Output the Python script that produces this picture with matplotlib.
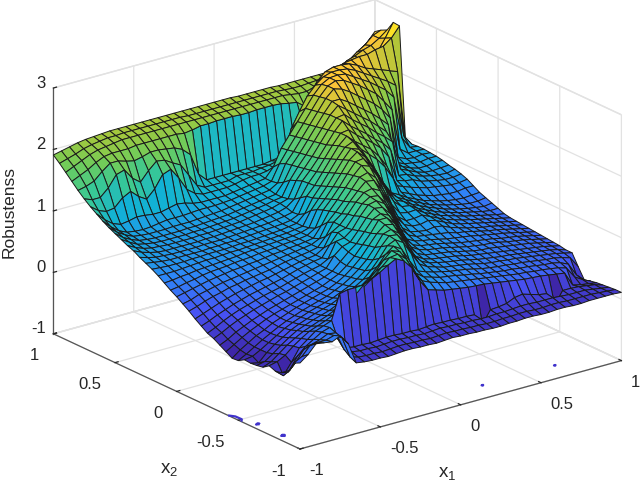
import numpy as np
import matplotlib
matplotlib.use("Agg")
import matplotlib.pyplot as plt
from matplotlib.colors import LinearSegmentedColormap, Normalize
from mpl_toolkits.mplot3d import proj3d

plt.rcParams['font.family'] = ['Liberation Sans', 'DejaVu Sans']
plt.rcParams['mathtext.fontset'] = 'custom'
plt.rcParams['mathtext.rm'] = 'Liberation Sans'
plt.rcParams['mathtext.default'] = 'rm'

x1 = np.linspace(-1, 1, 41)
x2 = np.linspace(-1, 1, 41)
x_ticks = [-1, -0.5, 0, 0.5, 1]
z_ticks = [-1, 0, 1, 2, 3]

# robustness, one row per x2 value (x2=-1 first)
robustness = [
[.40,.50,.64,.62,.60,.66,.50,.15,.13,.12,.12,.11,.12,.13,.13,.12,.12,.11,.12,.13,.12,.12,.11,.11,.10,.10,.11,.11,.12,.12,.11,.11,.12,.12,.11,.11,.12,.12,.12,.12,.11],
[.35,.42,.56,.58,.58,.62,.55,.20,.16,.15,.15,.14,.15,.16,.16,.15,.15,.14,.15,.16,.15,.15,.14,.14,.13,.13,.14,.14,.15,.15,.14,.14,.15,.15,.14,.14,.14,.14,.13,.12,.11],
[.15,.28,.45,.50,.54,.60,.58,.28,.20,.18,.18,.17,.18,.19,.19,.18,.18,.17,.18,.19,.18,.18,.17,.17,.16,.16,.17,.17,.18,.19,.19,.18,.18,.18,.17,.16,.16,.16,.14,.12,.10],
[.10,.10,.30,.42,.50,.58,.62,.40,.22,.20,.20,.19,.20,.21,.21,.20,.20,.19,.20,.21,.20,.20,.19,.19,.18,-.02,.19,.20,.22,.28,.30,.26,.22,.20,-.02,.18,.18,.17,.15,.13,.09],
[.08,-.03,.15,.35,.45,.55,.60,.65,1.05,1.08,1.08,1.09,1.15,1.22,1.30,1.37,1.30,1.15,.90,.72,.68,.64,.62,.60,.58,.57,.56,.54,.52,.50,.48,.46,.45,.44,.42,.40,.38,.15,.12,.10,.08],
[.12,.15,.22,.33,.42,.50,.55,.60,.66,.75,.85,.92,1.0,1.1,1.22,1.34,1.36,1.25,1.0,.82,.76,.72,.68,.66,.64,.62,.6,.58,.56,.54,.52,.5,.49,.47,.46,.44,.42,.38,.2,.12,.06],
[.05,.10,.2,.3,.38,.45,.5,.55,.6,.66,.72,.8,.88,.98,1.1,1.25,1.37,1.32,1.12,.9,.8,.76,.72,.7,.68,.65,.63,.6,.58,.56,.54,.53,.51,.5,.48,.46,.45,.42,.36,.15,.03],
[.03,.06,.15,.25,.34,.42,.47,.52,.56,.6,.66,.72,.78,.86,.96,1.1,1.26,1.36,1.28,1.05,.85,.8,.76,.73,.7,.68,.66,.63,.6,.58,.56,.55,.53,.52,.5,.48,.46,.45,.42,.38,.2],
[.02,-.01,.12,.22,.3,.38,.44,.49,.54,.58,.62,.68,.74,.8,.88,1.0,1.15,1.32,1.38,1.3,1.08,.88,.8,.76,.72,.7,.68,.66,.63,.6,.58,.57,.55,.54,.52,.5,.48,.46,.44,.41,.38],
[.03,.05,.12,.2,.28,.36,.42,.47,.52,.56,.6,.64,.7,.76,.84,.94,1.08,1.26,1.4,1.38,1.22,.98,.84,.78,.75,.72,.7,.68,.65,.62,.6,.58,.56,.55,.53,.51,.49,.47,.45,.42,.38],
[-.03,.04,.12,.2,.27,.34,.4,.45,.5,.54,.58,.62,.68,.74,.82,.92,1.04,1.2,1.38,1.42,1.32,1.08,.88,.8,.76,.74,.72,.7,.67,.64,.62,.6,.58,.56,.54,.52,.5,.48,.46,.43,.40],
[-.04,.06,.14,.22,.28,.35,.4,.45,.5,.54,.58,.62,.66,.72,.8,.9,1.02,1.18,1.34,1.45,1.42,1.22,.98,.84,.78,.76,.74,.72,.69,.66,.63,.61,.6,.58,.56,.54,.52,.5,.47,.44,.41],
[.02,.1,.18,.25,.31,.37,.42,.46,.5,.54,.58,.62,.66,.72,.78,.88,1.0,1.15,1.3,1.48,1.48,1.35,1.1,.9,.82,.78,.76,.74,.71,.68,.65,.63,.61,.6,.58,.55,.53,.51,.48,.45,.42],
[.08,.14,.22,.28,.34,.39,.44,.48,.52,.56,.6,.64,.68,.72,.78,.9,1.02,1.12,1.28,1.44,1.5,1.44,1.25,1.0,.85,.8,.78,.76,.73,.7,.67,.65,.63,.61,.59,.56,.54,.52,.49,.46,.43],
[.14,.2,.27,.33,.38,.43,.47,.51,.55,.58,.62,.66,.7,.74,.78,.95,1.06,1.1,1.25,1.42,1.54,1.52,1.38,1.14,.9,.83,.8,.78,.75,.72,.7,.68,.66,.63,.61,.58,.56,.53,.5,.47,.44],
[.18,.24,.31,.37,.42,.46,.5,.54,.57,.6,.64,.68,.72,.75,.78,.85,1.1,1.12,1.22,1.4,1.55,1.58,1.5,1.28,1.02,.88,.82,.8,.78,.76,.74,.7,.68,.65,.62,.59,.57,.54,.51,.48,.45],
[.25,.3,.36,.41,.46,.5,.54,.57,.6,.63,.66,.7,.74,.77,.8,.82,1.0,1.16,1.2,1.36,1.52,1.6,1.58,1.42,1.18,.95,.85,.82,.8,.82,.8,.74,.7,.66,.63,.6,.58,.55,.52,.49,.46],
[.32,.37,.42,.47,.51,.55,.58,.61,.64,.66,.69,.72,.75,.78,.8,.82,.9,1.12,1.2,1.34,1.5,1.62,1.65,1.58,1.34,1.08,.92,.86,.85,.88,.84,.78,.72,.68,.65,.62,.59,.56,.53,.5,.47],
[.4,.44,.49,.53,.56,.6,.62,.65,.67,.69,.71,.74,.77,.79,.81,.83,.86,1.0,1.2,1.3,1.46,1.6,1.72,1.7,1.5,1.25,1.0,.9,.9,.92,.86,.8,.74,.7,.66,.63,.6,.57,.54,.51,.48],
[.47,.5,.55,.58,.61,.64,.66,.68,.7,.72,.74,.76,.78,.8,.82,.84,.86,.92,1.15,1.28,1.42,1.58,1.74,1.78,1.66,1.42,1.15,.98,.95,.96,.88,.82,.76,.72,.68,.64,.61,.58,.55,.52,.5],
[.54,.57,.6,.63,.66,.68,.7,.72,.73,.75,.76,.78,.8,.81,.83,.84,.86,.88,1.05,1.25,1.4,1.56,1.72,1.85,1.8,1.6,1.35,1.12,1.0,.98,.9,.84,.78,.73,.69,.65,.62,.59,.56,.54,.54],
[.6,.62,.65,.67,.7,.72,.73,.74,.76,.77,.78,.8,.81,.82,.84,.85,.86,.88,.96,1.22,1.36,1.52,1.7,1.86,1.88,1.72,1.48,1.25,1.06,1.0,.92,.86,.8,.75,.7,.66,.63,.6,.58,.56,.58],
[.67,.68,.7,.71,.73,.74,.75,.76,.77,.78,.8,.81,.82,.83,.84,.85,.86,.88,.92,1.18,1.32,1.48,1.66,1.84,1.94,1.82,1.6,1.38,1.14,1.02,.95,.88,.82,.76,.72,.68,.65,.62,.6,.6,.62],
[.74,.74,.74,.75,.76,.77,.78,.78,.79,.8,.8,.81,.82,.83,.84,.85,.86,.88,.9,1.12,1.28,1.44,1.62,1.8,1.95,1.9,1.72,1.5,1.25,1.05,.98,.9,.84,.78,.74,.7,.67,.65,.64,.65,.66],
[.8,.79,.78,.78,.78,.79,.79,.8,.8,.8,.81,.82,.82,.83,.84,.85,.86,.88,.9,1.02,1.24,1.4,1.58,1.76,1.92,1.98,1.82,1.7,1.58,1.42,1.2,.94,.88,.82,.78,.74,.72,.7,.7,.72,.72],
[.85,.83,.81,.8,.8,.8,.8,.8,.81,.81,.82,.82,.83,.84,.85,.86,.87,.88,.9,.96,1.22,1.36,1.54,1.72,1.9,2.02,1.9,1.8,1.7,1.55,1.35,1.0,.95,.9,.86,.82,.8,.78,.76,.76,.78],
[.9,.86,.83,.82,.81,.81,.81,.81,.82,.82,.82,.83,.84,.85,.86,.87,.88,.9,.92,.95,1.15,1.35,1.5,1.68,1.86,2.02,2.04,1.92,1.82,1.72,1.6,1.42,1.0,.96,.94,.88,.85,.82,.8,.8,.82],
[.96,.9,.86,.83,.82,.82,.82,.82,.82,.83,.83,.84,.85,.86,.87,.88,.9,.92,.94,.98,1.08,1.34,1.48,1.64,1.82,2.0,2.14,2.02,1.92,1.82,1.7,1.6,1.45,1.0,.98,.92,.88,.85,.83,.82,.85],
[1.0,.93,.88,.85,.84,.83,.83,.83,.83,.84,.84,.85,.86,.87,.88,.9,.92,.94,.96,1.0,1.04,1.3,1.46,1.62,1.8,1.98,2.14,2.16,2.04,1.94,1.84,1.72,1.62,1.5,1.02,.96,.9,.86,.85,.86,.87],
[1.05,.97,.9,.87,.85,.84,.84,.84,.84,.85,.85,.86,.87,.88,.89,.91,.93,.95,.97,1.0,1.02,1.26,1.44,1.6,1.78,1.96,2.14,2.26,2.16,2.06,1.96,1.86,1.74,1.62,1.05,.98,.92,.88,.88,.9,.9],
[1.1,1.0,.93,.88,.86,.85,.85,.85,.85,.86,.86,.87,.88,.89,.9,.92,.94,.96,.98,1.0,1.02,1.18,1.42,1.58,1.76,1.94,2.12,2.28,2.28,2.2,2.1,2.0,1.9,1.78,1.65,1.0,.94,.92,.9,.92,.92],
[1.15,1.04,.96,.9,.88,.87,.87,.87,.88,.88,.88,.89,.9,.91,.92,.94,.96,.98,1.0,1.02,1.04,1.12,1.4,1.56,1.74,1.92,2.1,2.28,2.4,2.36,2.28,2.18,2.08,1.98,1.85,1.68,1.0,.94,.92,.94,.93],
[1.21,1.08,.98,.92,.9,.89,.9,.92,.94,.94,.94,.95,.96,.96,.96,.97,.98,1.0,1.02,1.04,1.06,1.1,1.35,1.54,1.72,1.9,2.08,2.26,2.4,2.45,2.42,2.34,2.26,2.16,2.06,1.9,1.73,1.05,.95,.95,.94],
[1.28,1.15,1.05,1.0,1.02,1.05,1.04,1.02,1.02,1.05,1.08,1.06,1.02,1.0,1.0,1.0,1.0,1.02,1.04,1.06,1.08,1.1,1.25,1.52,1.7,1.88,2.06,2.24,2.38,2.45,2.46,2.44,2.36,2.28,2.2,2.1,2.0,1.85,1.15,.96,.94],
[1.35,1.25,1.2,1.22,1.35,1.42,1.3,1.22,1.35,1.55,1.6,1.42,1.2,1.1,1.05,1.05,1.05,1.05,1.07,1.1,1.12,1.12,1.14,1.15,1.25,1.72,1.96,2.18,2.32,2.42,2.46,2.46,2.44,2.38,2.3,2.22,2.14,2.06,1.96,1.1,.93],
[1.43,1.38,1.38,1.5,1.68,1.72,1.55,1.45,1.6,1.72,1.7,1.62,1.55,1.35,1.15,1.08,1.08,1.08,1.08,1.12,1.12,1.12,1.14,1.15,1.18,1.2,1.3,1.85,2.1,2.3,2.42,2.46,2.46,2.44,2.38,2.3,2.25,2.2,2.15,2.1,.92],
[1.52,1.55,1.6,1.72,1.82,1.82,1.78,1.75,1.78,1.82,1.82,1.8,1.78,1.72,1.6,1.25,1.12,1.12,1.12,1.12,1.12,1.12,1.12,1.12,1.14,1.16,1.18,1.25,1.6,2.0,2.15,2.28,2.34,2.4,2.42,2.44,2.44,2.48,2.5,2.6,2.76],
[1.62,1.68,1.74,1.82,1.88,1.9,1.9,1.9,1.92,1.92,1.92,1.92,1.92,1.92,1.9,1.92,1.95,1.95,1.96,1.96,1.96,1.95,1.95,1.96,1.96,1.96,1.95,1.92,1.9,1.8,1.9,2.05,2.15,2.2,2.25,2.28,2.3,2.32,2.35,2.55,2.77],
[1.72,1.78,1.84,1.9,1.94,1.96,1.98,2.0,2.0,2.0,2.0,2.0,2.0,2.0,2.0,2.0,2.0,2.0,2.0,2.0,2.0,2.0,2.0,2.0,2.0,2.0,2.0,2.0,1.98,1.96,1.96,2.0,2.05,2.12,2.2,2.28,2.32,2.38,2.42,2.5,2.6],
[1.82,1.86,1.9,1.95,1.98,2.0,2.02,2.02,2.03,2.03,2.03,2.03,2.03,2.03,2.03,2.03,2.02,2.02,2.02,2.02,2.02,2.02,2.02,2.02,2.02,2.02,2.02,2.02,2.01,2.0,2.0,2.01,2.02,2.03,2.05,2.1,2.2,2.3,2.38,2.5,2.55],
[1.91,1.94,1.97,2.0,2.02,2.03,2.04,2.05,2.05,2.05,2.05,2.05,2.05,2.05,2.05,2.05,2.05,2.05,2.05,2.05,2.05,2.05,2.05,2.04,2.04,2.04,2.04,2.04,2.03,2.03,2.03,2.03,2.03,2.03,2.03,2.03,2.03,2.06,2.23,2.33,2.48],
]

# parula, matlab's colormap
parula = LinearSegmentedColormap.from_list("parula", [
    (0.2422, 0.1504, 0.6603), (0.2810, 0.3228, 0.9579), (0.1786, 0.5289, 0.9682),
    (0.0689, 0.6948, 0.8394), (0.2161, 0.7843, 0.5923), (0.4420, 0.8000, 0.3500),
    (0.6720, 0.7793, 0.2227), (0.9970, 0.7659, 0.2199), (0.9769, 0.9839, 0.0805)])

X, Y = np.meshgrid(x1, x2)
Z = np.array(robustness)
norm = Normalize(-0.03, 2.77)

fig = plt.figure(figsize=(6.4, 4.84), dpi=100)
ax = fig.add_axes([0, 0, 1, 1], projection='3d', proj_type='ortho')
ax.view_init(elev=21, azim=-127.5)
ax.set_box_aspect((1, 1, 0.65))
ax.computed_zorder = False

ax.contour(X, Y, Z, levels=[0], zdir='z', offset=-1, colors=[(0.25, 0.2, 0.8)],
           linewidths=1.6, zorder=1)
ax.plot_surface(X, Y, Z, rstride=1, cstride=1, facecolors=parula(norm(Z)), shade=False,
                edgecolor='#1a1a1a', linewidth=0.7, zorder=2)

ax.set_xlim(-1, 1, view_margin=0)
ax.set_ylim(-1, 1, view_margin=0)
ax.set_zlim(-1, 3, view_margin=0)
ax.set_xticks(x_ticks)
ax.set_yticks(x_ticks)
ax.set_zticks(z_ticks)
ax.set_xticklabels(['-1', '-0.5', '0', '0.5', '1'], ha='left')
ax.set_yticklabels(['-1', '-0.5', '0', '0.5', '1'], ha='right')
ax.set_zticklabels(['-1', '0', '1', '2', '3'], ha='right', va='baseline')

for axis in (ax.xaxis, ax.yaxis, ax.zaxis):
    axis.set_pane_color((1, 1, 1, 1))
    axis.pane.set_edgecolor('#e2e2e2')
    axis.line.set_color('#555555')
    axis.line.set_linewidth(0.9)
    axis._axinfo['grid'].update(color='#e2e2e2', linewidth=0.9)
    axis._axinfo['tick'].update(inward_factor=0.0, outward_factor=0.12, color='#555555',
                                linewidth={True: 0.9, False: 0.5})
    axis.set_tick_params(labelsize=12, labelcolor='#262626', colors='#262626')
ax.tick_params(axis='x', pad=1)
ax.tick_params(axis='y', pad=2)
ax.tick_params(axis='z', pad=-5)

# fit the box onto the corners measured in the picture
ax.apply_aspect()
M = ax.get_proj()
corners = [(-1, 1, -1), (1, -1, -1), (-1, -1, -1)]
px = [ax.transData.transform(proj3d.proj_transform(*c, M)[:2]) for c in corners]
nrm = ax.transAxes.inverted().transform(np.array(px))
side = (621 - 53) / (nrm[1][0] - nrm[0][0])
left = 300 - side * nrm[2][0]
bottom = (484 - 449) - side * nrm[2][1]
ax.set_position([left / 640, bottom / 484, side / 640, side / 484])

fig.text(9 / 640, 1 - 212 / 484, 'Robustenss', rotation=90, ha='center', va='center',
         fontsize=12.5, color='#262626')
fig.text(169 / 640, 1 - 469 / 484, 'x$_2$', ha='center', va='center', fontsize=13.5, color='#262626')
fig.text(447 / 640, 1 - 473 / 484, 'x$_1$', ha='center', va='center', fontsize=13.5, color='#262626')

fig.savefig('out.png', dpi=100)
